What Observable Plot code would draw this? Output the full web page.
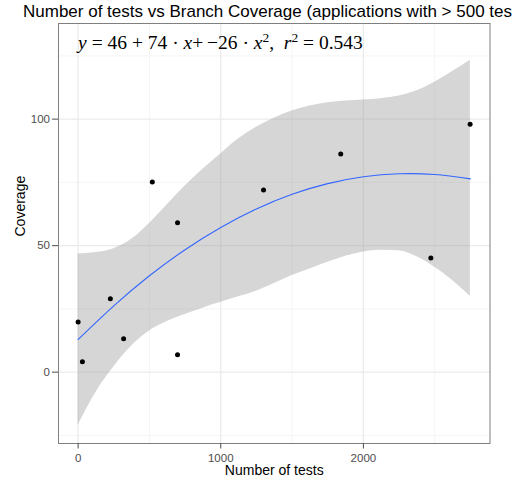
<!DOCTYPE html>
<html>
<head>
<meta charset="utf-8">
<script src="https://cdn.jsdelivr.net/npm/d3@7"></script>
<script src="https://cdn.jsdelivr.net/npm/@observablehq/plot@0.6"></script>
<style>
  html, body { margin: 0; padding: 0; background: #fff; }
  #wrap { width: 512px; overflow: hidden; }
  #title { position: relative; top: 1.2px; height: 22px; line-height: 22px; padding-left: 23px;
    font-family: "Liberation Sans", Arial, sans-serif; font-size: 17px; color: #000;
    white-space: nowrap; overflow: hidden; width: 489px; }
  svg { display: block; }
</style>
</head>
<body>
<div id="wrap">
  <div id="title">Number of tests vs Branch Coverage (applications with &gt; 500 tests)</div>
  <div id="chart"></div>
</div>
<script>
// Observed points
const numTests = [0, 30, 226, 319, 520, 697, 697, 1300, 1841, 2473, 2748];
const coverage = [19.8, 4.1, 29, 13.2, 75.2, 59, 6.9, 72, 86.2, 45.1, 98];

// Fitted curve
const fitX = [0, 250, 500, 750, 1000, 1250, 1500, 1750, 2000, 2250, 2500, 2750];
const fitY = [12.9, 26.2, 38.1, 48.4, 57.2, 64.5, 70.3, 74.5, 77.2, 78.4, 78.1, 76.4];

// Confidence band
const bandX     = [0, 125, 250, 375, 500, 625, 750, 875, 1000, 1125, 1250, 1375, 1500, 1625, 1750, 1875, 2000, 2125, 2250, 2375, 2500, 2625, 2750];
const bandUpper = [46.7, 47.3, 48.8, 52.5, 58.8, 66.2, 73.6, 80.2, 86.2, 92.2, 96.8, 100.4, 103.2, 105.2, 106.5, 107.2, 107.6, 108.1, 109.1, 111.2, 114.6, 118.8, 123.3];
const bandLower = [-21, -8, 2, 10.3, 16.3, 20, 22.8, 25.3, 27.6, 29.8, 32, 35, 38.2, 40.8, 43.4, 45.8, 47.5, 48.2, 48, 45.6, 41.5, 36.2, 29.9];

// Axis ticks
const xMajor = [0, 1000, 2000];
const xMinor = [500, 1500, 2500];
const yMajor = [0, 50, 100];
const yMinor = [-25, 25, 75, 125];

// Equation annotation
const eqCoef = [46, 74, -26];
const eqR2 = 0.543;

const points = numTests.map((x, i) => ({x, y: coverage[i]}));
const fit = fitX.map((x, i) => ({x, y: fitY[i]}));
const band = bandX.map((x, i) => ({x, lo: bandLower[i], hi: bandUpper[i]}));

const plot = Plot.plot({
  width: 512,
  height: 460,
  marginLeft: 58,
  marginRight: 22.5,
  marginTop: 1,
  marginBottom: 39,
  style: {fontFamily: "'Liberation Sans', Arial, sans-serif", background: "#fff"},
  x: {domain: [-137.5, 2887.5]},
  y: {domain: [-28.2, 137.8]},
  marks: [
    Plot.ruleX(xMinor, {stroke: "#f5f5f5", strokeWidth: 1}),
    Plot.ruleY(yMinor, {stroke: "#f5f5f5", strokeWidth: 1}),
    Plot.ruleX(xMajor, {stroke: "#ebebeb", strokeWidth: 1.3}),
    Plot.ruleY(yMajor, {stroke: "#ebebeb", strokeWidth: 1.3}),
    Plot.areaY(band, {x: "x", y1: "lo", y2: "hi", fill: "#999999", fillOpacity: 0.4, curve: "monotone-x"}),
    Plot.line(fit, {x: "x", y: "y", stroke: "#3366FF", strokeWidth: 1.1, curve: "natural"}),
    Plot.dot(points, {x: "x", y: "y", r: 2.5, fill: "#000", stroke: "none"}),
    Plot.frame({stroke: "#7f7f7f", strokeWidth: 1}),
    Plot.axisX({ticks: xMajor, tickSize: 5.5, tickPadding: 4.5, fontSize: 11.5, color: "#4d4d4d", label: null, tickFormat: d => String(d)}),
    Plot.axisY({ticks: yMajor, tickSize: 6, tickPadding: 2.5, fontSize: 11.5, color: "#4d4d4d", label: null, tickFormat: d => String(d)}),
    Plot.text(["Number of tests"], {frameAnchor: "bottom", dy: 31.5, fontSize: 14, fill: "#000"}),
    Plot.text(["Coverage"], {frameAnchor: "left", dx: -38, dy: 3, rotate: -90, fontSize: 14, fill: "#000"}),
    Plot.text([`y = ${eqCoef[0]} + ${eqCoef[1]} · x+ ${eqCoef[2]} · x2, r2 = ${eqR2}`], {
      x: 0, y: 130, textAnchor: "start", fontSize: 19.5, fill: "#000",
      fontFamily: "'Liberation Serif', 'Times New Roman', serif", className: "eq"
    })
  ]
});

document.getElementById("chart").appendChild(plot);

// Rich formatting of the equation: italic variables, superscripts
const eqText = plot.querySelector("g.eq text");
if (eqText) {
  const parts = [
    ["y", "i"], [" = ", ""], [String(eqCoef[0]), ""], [" + ", ""], [String(eqCoef[1]), ""],
    [" · ", ""], ["x", "i"], ["+", ""], ["\u2009\u2212" + Math.abs(eqCoef[2]), ""], [" · ", ""],
    ["x", "i"], ["2", "s"], [",  ", ""], ["r", "i"], ["2", "s"], [" = ", ""], [String(eqR2), ""]
  ];
  while (eqText.firstChild) eqText.removeChild(eqText.firstChild);
  let prevSup = false;
  for (const [s, k] of parts) {
    const t = document.createElementNS("http://www.w3.org/2000/svg", "tspan");
    t.textContent = s;
    if (k === "i") t.setAttribute("font-style", "italic");
    if (k === "s") { t.setAttribute("font-size", "13.5"); t.setAttribute("dy", "-7"); }
    else if (prevSup) t.setAttribute("dy", "7");
    prevSup = k === "s";
    eqText.appendChild(t);
  }
  eqText.style.whiteSpace = "pre";
}
</script>
</body>
</html>
